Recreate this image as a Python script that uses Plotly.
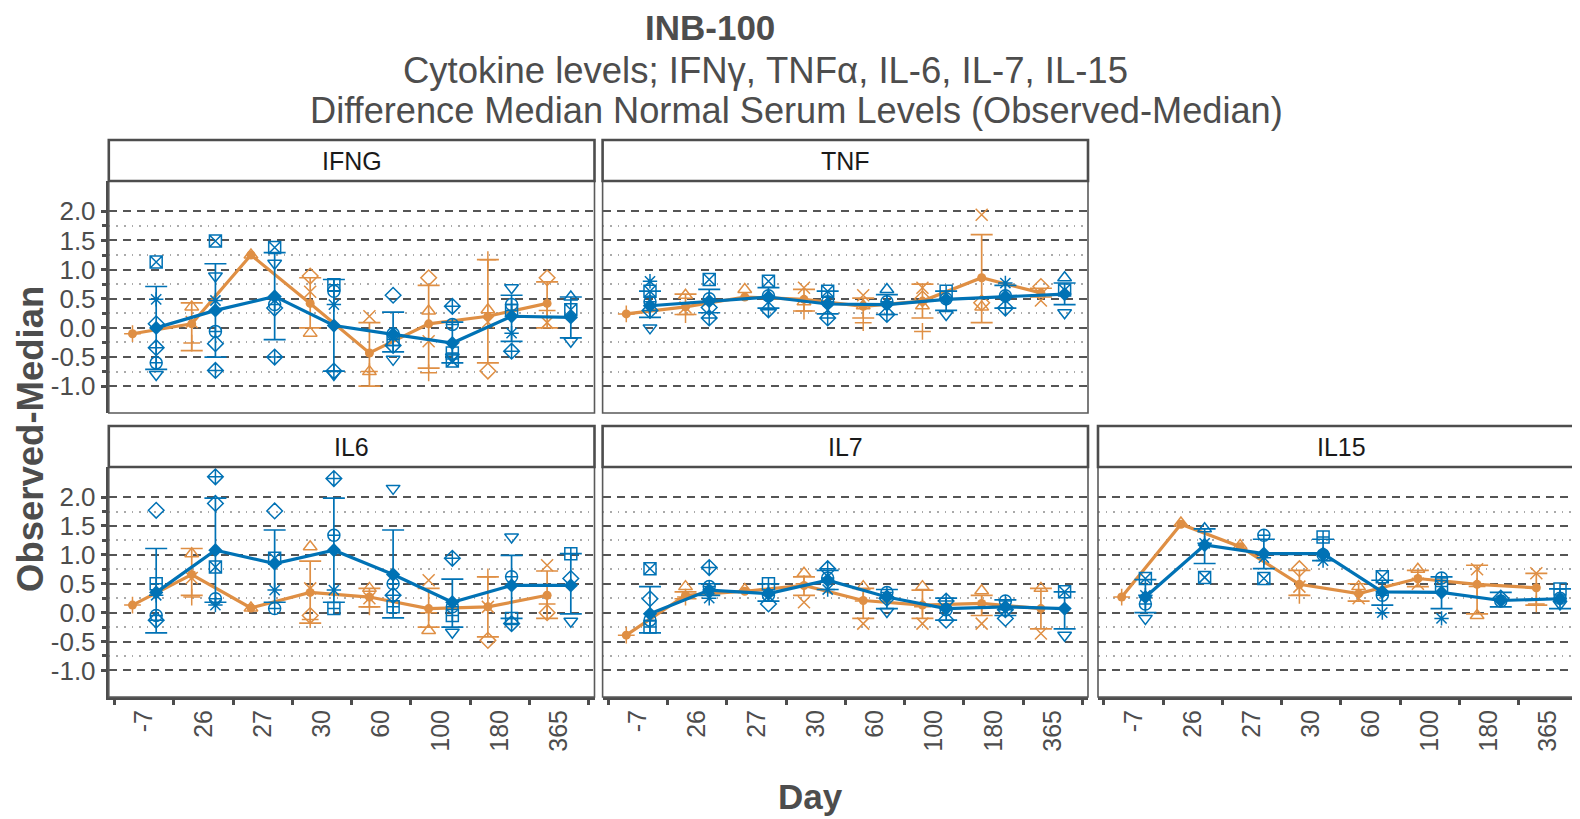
import plotly.graph_objects as go

# ---------------- data ----------------
DAYS = ["-7", "26", "27", "30", "60", "100", "180", "365"]
PANELS = ["IFNG", "TNF", "IL6", "IL7", "IL15"]

# group A (orange) and group B (blue): mean, error-bar low / high, individual subjects
IFNG_A_MEAN = [-0.10, 0.07, 1.25, 0.42, -0.43, 0.07, 0.20, 0.42]
IFNG_A_LO = [None, -0.39, None, 0.00, -1.00, -0.69, -0.60, 0.00]
IFNG_A_HI = [None, 0.43, None, 0.86, 0.09, 0.73, 1.17, 0.79]
IFNG_A_PTS = [("-7", "A2", -0.10), ("26", "A1", 0.36), ("26", "A2", -0.26), ("26", "A3", 0.10),
              ("27", "A1", 1.25), ("30", "A4", 0.89), ("30", "A3", 0.62), ("30", "A1", -0.09),
              ("60", "A3", 0.20), ("60", "A1", -0.75), ("60", "A2", -0.75),
              ("100", "A4", 0.86), ("100", "A1", 0.29), ("100", "A3", -0.23), ("100", "A2", -0.77),
              ("180", "A2", 1.17), ("180", "A1", 0.31), ("180", "A4", -0.74), ("180", "A3", 0.10),
              ("365", "A4", 0.86), ("365", "A3", 0.09), ("365", "A2", 0.30)]
IFNG_B_MEAN = [0.00, 0.30, 0.54, 0.04, -0.11, -0.26, 0.20, 0.18]
IFNG_B_LO = [-0.71, -0.50, -0.20, -0.74, -0.41, -0.60, -0.23, -0.17]
IFNG_B_HI = [0.71, 1.10, 1.29, 0.83, 0.27, 0.10, 0.56, 0.53]
IFNG_B_PTS = [("-7", "B1", 1.13), ("-7", "B5", 0.49), ("-7", "B3", 0.07), ("-7", "B4", -0.34), ("-7", "B6", -0.60), ("-7", "B2", -0.80),
              ("26", "B1", 1.49), ("26", "B2", 0.89), ("26", "B5", 0.47), ("26", "B6", -0.06), ("26", "B3", -0.27), ("26", "B4", -0.73),
              ("27", "B1", 1.38), ("27", "B2", 1.11), ("27", "B3", 0.34), ("27", "B6", 0.40), ("27", "B4", -0.50),
              ("30", "B7", 0.74), ("30", "B6", 0.63), ("30", "B5", 0.40), ("30", "B4", -0.74), ("30", "B2", -0.80),
              ("60", "B3", 0.56), ("60", "B6", -0.10), ("60", "B7", -0.20), ("60", "B4", -0.30), ("60", "B2", -0.54),
              ("100", "B4", 0.37), ("100", "B6", 0.06), ("100", "B7", -0.43), ("100", "B2", -0.50), ("100", "B1", -0.57),
              ("180", "B2", 0.69), ("180", "B6", 0.40), ("180", "B7", 0.30), ("180", "B5", -0.09), ("180", "B4", -0.40),
              ("365", "B8", 0.53), ("365", "B1", 0.31), ("365", "B2", -0.23)]

TNF_A_MEAN = [0.24, 0.36, 0.53, 0.49, 0.37, 0.46, 0.86, 0.60]
TNF_A_LO = [None, 0.23, None, 0.29, 0.17, 0.17, 0.09, 0.53]
TNF_A_HI = [None, 0.58, None, 0.66, 0.51, 0.75, 1.60, 0.68]
TNF_A_PTS = [("-7", "A2", 0.24), ("26", "A1", 0.56), ("26", "A2", 0.23), ("26", "A3", 0.35),
             ("27", "A1", 0.66), ("30", "A3", 0.69), ("30", "A1", 0.45), ("30", "A2", 0.29),
             ("60", "A3", 0.56), ("60", "A2", 0.09), ("60", "A1", 0.38),
             ("100", "A3", 0.69), ("100", "A2", -0.06), ("100", "A1", 0.38), ("100", "A4", 0.50),
             ("180", "A3", 1.94), ("180", "A4", 0.43), ("180", "A1", 0.36),
             ("365", "A4", 0.71), ("365", "A3", 0.47)]
TNF_B_MEAN = [0.38, 0.46, 0.53, 0.41, 0.40, 0.49, 0.54, 0.58]
TNF_B_LO = [0.18, 0.26, 0.34, 0.24, 0.23, 0.30, 0.34, 0.40]
TNF_B_HI = [0.63, 0.66, 0.69, 0.63, 0.57, 0.63, 0.73, 0.77]
TNF_B_PTS = [("-7", "B5", 0.80), ("-7", "B1", 0.63), ("-7", "B6", 0.45), ("-7", "B4", 0.30), ("-7", "B2", 0.00),
             ("26", "B1", 0.83), ("26", "B6", 0.50), ("26", "B3", 0.35), ("26", "B4", 0.17),
             ("27", "B1", 0.80), ("27", "B6", 0.55), ("27", "B4", 0.31),
             ("30", "B1", 0.63), ("30", "B6", 0.45), ("30", "B4", 0.17),
             ("60", "B8", 0.66), ("60", "B6", 0.45), ("60", "B4", 0.23),
             ("100", "B7", 0.63), ("100", "B6", 0.50), ("100", "B2", 0.23),
             ("180", "B5", 0.77), ("180", "B6", 0.55), ("180", "B4", 0.34),
             ("365", "B8", 0.86), ("365", "B1", 0.65), ("365", "B2", 0.26)]

IL6_A_MEAN = [0.13, 0.66, 0.08, 0.35, 0.27, 0.07, 0.10, 0.30]
IL6_A_LO = [None, 0.30, None, -0.18, 0.10, -0.25, -0.42, -0.10]
IL6_A_HI = [None, 1.11, None, 0.89, 0.42, 0.42, 0.62, 0.72]
IL6_A_PTS = [("-7", "A2", 0.13), ("26", "A1", 1.02), ("26", "A2", 0.27), ("26", "A3", 0.60),
             ("27", "A1", 0.08), ("30", "A1", 1.14), ("30", "A3", 0.42), ("30", "A4", -0.05), ("30", "A2", -0.12),
             ("60", "A1", 0.42), ("60", "A2", 0.10), ("60", "A3", 0.25),
             ("100", "A3", 0.56), ("100", "A1", -0.31), ("100", "A2", 0.00),
             ("180", "A2", 0.62), ("180", "A3", 0.10), ("180", "A4", -0.48),
             ("365", "A3", 0.82), ("365", "A4", 0.00), ("365", "A2", 0.15)]
IL6_B_MEAN = [0.35, 1.08, 0.85, 1.08, 0.66, 0.18, 0.47, 0.47]
IL6_B_LO = [-0.35, 0.18, 0.18, 0.18, -0.09, -0.25, -0.10, -0.02]
IL6_B_HI = [1.11, 1.98, 1.43, 1.98, 1.43, 0.58, 0.99, 1.02]
IL6_B_PTS = [("-7", "B3", 1.77), ("-7", "B7", 0.50), ("-7", "B5", 0.30), ("-7", "B6", -0.05), ("-7", "B4", -0.13),
             ("26", "B4", 2.35), ("26", "B3", 1.89), ("26", "B1", 0.79), ("26", "B6", 0.24), ("26", "B5", 0.13),
             ("27", "B3", 1.76), ("27", "B1", 0.94), ("27", "B5", 0.39), ("27", "B6", 0.07),
             ("30", "B4", 2.32), ("30", "B6", 1.34), ("30", "B5", 0.39), ("30", "B7", 0.07),
             ("60", "B2", 2.15), ("60", "B6", 0.50), ("60", "B4", 0.30), ("60", "B7", 0.10),
             ("100", "B4", 0.94), ("100", "B6", 0.10), ("100", "B7", -0.05), ("100", "B2", -0.34),
             ("180", "B2", 1.31), ("180", "B6", 0.62), ("180", "B7", -0.10), ("180", "B4", -0.19),
             ("365", "B7", 1.02), ("365", "B3", 0.59), ("365", "B2", -0.15)]

IL7_A_MEAN = [-0.39, 0.30, 0.37, 0.47, 0.21, 0.13, 0.16, 0.07]
IL7_A_LO = [None, 0.24, None, 0.30, -0.10, -0.10, -0.05, -0.28]
IL7_A_HI = [None, 0.36, None, 0.62, 0.42, 0.39, 0.30, 0.42]
IL7_A_PTS = [("-7", "A2", -0.39), ("26", "A1", 0.45), ("26", "A2", 0.27), ("27", "A1", 0.40),
             ("30", "A1", 0.68), ("30", "A3", 0.18), ("30", "A2", 0.50),
             ("60", "A1", 0.45), ("60", "A3", -0.19), ("60", "A2", 0.20),
             ("100", "A1", 0.45), ("100", "A3", -0.19), ("100", "A2", 0.10),
             ("180", "A1", 0.38), ("180", "A3", -0.19), ("180", "A2", 0.15),
             ("365", "A1", 0.42), ("365", "A3", -0.36)]
IL7_B_MEAN = [-0.02, 0.39, 0.33, 0.56, 0.27, 0.07, 0.10, 0.07]
IL7_B_LO = [-0.35, 0.30, 0.20, 0.40, 0.07, -0.13, -0.05, -0.28]
IL7_B_HI = [0.45, 0.50, 0.50, 0.73, 0.40, 0.25, 0.22, 0.36]
IL7_B_PTS = [("-7", "B1", 0.76), ("-7", "B3", 0.24), ("-7", "B6", -0.13), ("-7", "B7", -0.25),
             ("26", "B4", 0.78), ("26", "B6", 0.45), ("26", "B5", 0.25),
             ("27", "B7", 0.50), ("27", "B6", 0.30), ("27", "B3", 0.15),
             ("30", "B4", 0.76), ("30", "B6", 0.60), ("30", "B5", 0.40),
             ("60", "B6", 0.35), ("60", "B4", 0.25), ("60", "B2", 0.02),
             ("100", "B4", 0.20), ("100", "B6", 0.05), ("100", "B3", -0.13),
             ("180", "B6", 0.20), ("180", "B4", 0.05), ("180", "B3", -0.10),
             ("365", "B1", 0.36), ("365", "B2", -0.39)]

IL15_A_MEAN = [0.27, 1.53, 1.14, 0.49, 0.33, 0.59, 0.49, 0.43]
IL15_A_LO = [None, None, None, 0.30, 0.20, 0.45, -0.02, 0.13]
IL15_A_HI = [None, None, None, 0.73, 0.50, 0.73, 0.82, 0.68]
IL15_A_PTS = [("-7", "A2", 0.27), ("26", "A1", 1.55), ("27", "A1", 1.16),
              ("30", "A4", 0.76), ("30", "A2", 0.30), ("30", "A3", 0.45),
              ("60", "A1", 0.45), ("60", "A3", 0.25), ("100", "A1", 0.75), ("100", "A3", 0.50),
              ("180", "A3", 0.75), ("180", "A1", -0.05), ("180", "A2", 0.45),
              ("365", "A3", 0.68), ("365", "A2", 0.15)]
IL15_B_MEAN = [0.27, 1.17, 1.02, 1.02, 0.36, 0.35, 0.21, 0.24]
IL15_B_LO = [0.00, 0.85, 0.76, 0.90, 0.13, 0.07, 0.10, 0.07]
IL15_B_HI = [0.57, 1.45, 1.27, 1.27, 0.56, 0.62, 0.35, 0.41]
IL15_B_PTS = [("-7", "B1", 0.59), ("-7", "B5", 0.30), ("-7", "B6", 0.15), ("-7", "B2", -0.10),
              ("26", "B8", 1.45), ("26", "B5", 1.20), ("26", "B1", 0.61),
              ("27", "B6", 1.34), ("27", "B5", 0.95), ("27", "B1", 0.59),
              ("30", "B7", 1.31), ("30", "B6", 1.00), ("30", "B5", 0.90),
              ("60", "B1", 0.62), ("60", "B6", 0.30), ("60", "B5", 0.00),
              ("100", "B6", 0.60), ("100", "B7", 0.45), ("100", "B5", -0.10),
              ("180", "B3", 0.25), ("180", "B6", 0.20),
              ("365", "B7", 0.41), ("365", "B6", 0.25), ("365", "B2", 0.15)]

Y_TICKS = [-1.0, -0.5, 0.0, 0.5, 1.0, 1.5, 2.0]
Y_MINOR = [-0.75, -0.25, 0.25, 0.75, 1.25, 1.75]

# ---------------- styling ----------------
OFF = 8  # page body margin of the browser
W, H = 1580 - OFF, 819 - OFF
ORANGE = "#DF8F44"
BLUE = "#0072B5"
DARK = "#4d4d4d"
FONT = "Liberation Sans, Arial, sans-serif"
SYM = {"A1": "triangle-up-open", "A2": "cross-thin-open", "A3": "x-thin-open", "A4": "diamond-open",
       "B1": "square-x-open", "B2": "triangle-down-open", "B3": "diamond-open", "B4": "diamond-cross-open",
       "B5": "asterisk-open", "B6": "circle-cross-open", "B7": "square-cross-open", "B8": "triangle-up-open"}
DODGE = {"A": -0.2, "B": 0.2}
COLOR = {"A": ORANGE, "B": BLUE}

DATA = {
    "IFNG": {"A": (IFNG_A_MEAN, IFNG_A_LO, IFNG_A_HI, IFNG_A_PTS), "B": (IFNG_B_MEAN, IFNG_B_LO, IFNG_B_HI, IFNG_B_PTS)},
    "TNF": {"A": (TNF_A_MEAN, TNF_A_LO, TNF_A_HI, TNF_A_PTS), "B": (TNF_B_MEAN, TNF_B_LO, TNF_B_HI, TNF_B_PTS)},
    "IL6": {"A": (IL6_A_MEAN, IL6_A_LO, IL6_A_HI, IL6_A_PTS), "B": (IL6_B_MEAN, IL6_B_LO, IL6_B_HI, IL6_B_PTS)},
    "IL7": {"A": (IL7_A_MEAN, IL7_A_LO, IL7_A_HI, IL7_A_PTS), "B": (IL7_B_MEAN, IL7_B_LO, IL7_B_HI, IL7_B_PTS)},
    "IL15": {"A": (IL15_A_MEAN, IL15_A_LO, IL15_A_HI, IL15_A_PTS), "B": (IL15_B_MEAN, IL15_B_LO, IL15_B_HI, IL15_B_PTS)},
}

# screen-pixel geometry of the panels
COLS = [(108.8, 594.5), (602.6, 1088.0), (1098.0, 1584.0)]
ROWS = [(181.0, 413.0), (467.0, 697.0)]
STRIP_H = 41.0
POS = {"IFNG": (0, 0), "TNF": (0, 1), "IL6": (1, 0), "IL7": (1, 1), "IL15": (1, 2)}
UNIT = (COLS[0][1] - COLS[0][0]) / 8.2
YR = [-1.46, 2.52]


def px(x):
    return (x - OFF) / W


def py(y):
    return 1 - (y - OFF) / H


fig = go.Figure()
layout = dict(
    width=W, height=H, margin=dict(l=0, r=0, t=0, b=0, autoexpand=False),
    paper_bgcolor="white", plot_bgcolor="white", showlegend=False,
    font=dict(family=FONT, color=DARK),
)
shapes, annotations = [], []
day_idx = {d: i + 1 for i, d in enumerate(DAYS)}

for k, name in enumerate(PANELS, start=1):
    row, col = POS[name]
    xa = "x" if k == 1 else f"x{k}"
    ya = "y" if k == 1 else f"y{k}"
    l, r = COLS[col]
    t, b = ROWS[row]
    rclip = min(r, W + OFF)
    xr = [0.4, 0.4 + (rclip - l) / UNIT]

    for g in ("A", "B"):
        mean, lo, hi, pts = DATA[name][g]
        c = COLOR[g]
        # individual subjects
        fig.add_trace(go.Scatter(
            x=[day_idx[d] + DODGE[g] for d, s, v in pts], y=[v for d, s, v in pts],
            mode="markers", xaxis=xa, yaxis=ya, hoverinfo="skip", cliponaxis=False,
            marker=dict(symbol=[SYM[s] for d, s, v in pts], size=12, color=c,
                        line=dict(color=c, width=1.5))))
        # error bars
        ex, ey, ep, em = [], [], [], []
        for i, m in enumerate(mean):
            if lo[i] is not None and hi[i] is not None:
                ex.append(i + 1 + DODGE[g])
                ey.append(m)
                ep.append(hi[i] - m)
                em.append(m - lo[i])
        fig.add_trace(go.Scatter(
            x=ex, y=ey, mode="markers", xaxis=xa, yaxis=ya, hoverinfo="skip",
            marker=dict(size=2, color=c, opacity=0),
            error_y=dict(type="data", symmetric=False, array=ep, arrayminus=em,
                         color=c, thickness=1.7, width=11)))
        # mean line
        fig.add_trace(go.Scatter(
            x=[i + 1 + DODGE[g] for i in range(len(mean))], y=mean,
            mode="lines+markers", xaxis=xa, yaxis=ya, hoverinfo="skip",
            line=dict(color=c, width=3.2),
            marker=dict(symbol="circle" if g == "A" else "diamond", size=9 if g == "A" else 11, color=c)))

    layout["xaxis" if k == 1 else f"xaxis{k}"] = dict(
        domain=[px(l), px(rclip)], range=xr, anchor=ya, automargin=False,
        tickmode="array", tickvals=list(range(1, 9)), ticktext=DAYS, ticks="",
        showticklabels=(row == 1), tickangle=-90,
        tickfont=dict(size=25, color=DARK, family=FONT),
        showgrid=False, zeroline=False,
        showline=(row == 1), linewidth=3, linecolor=DARK,
        minor=dict(tickmode="array", tickvals=[0.5 + i for i in range(9)],
                   ticks="outside" if row == 1 else "", ticklen=5, tickwidth=3,
                   tickcolor=DARK, showgrid=False),
    )
    layout["yaxis" if k == 1 else f"yaxis{k}"] = dict(
        domain=[py(b), py(t)], range=YR, anchor=xa, automargin=False,
        tickmode="array", tickvals=Y_TICKS, ticktext=[f"{v:.1f}" for v in Y_TICKS],
        showticklabels=(col == 0), ticks="outside" if col == 0 else "",
        ticklen=5, tickwidth=3, tickcolor=DARK,
        tickfont=dict(size=26, color=DARK, family=FONT),
        showgrid=True, gridcolor="#555555", gridwidth=1.8, griddash="8px,6px",
        zeroline=False, showline=(col == 0), linewidth=3, linecolor=DARK,
        minor=dict(tickmode="array", tickvals=Y_MINOR, showgrid=True, gridcolor="#aaaaaa",
                   gridwidth=1.6, griddash="1.6px,6px",
                   ticks="outside" if col == 0 else "", ticklen=4, tickwidth=3, tickcolor=DARK),
    )
    # panel border
    shapes.append(dict(type="rect", xref="paper", yref="paper", x0=px(l), x1=px(r), y0=py(b), y1=py(t),
                       line=dict(color="#5a5a5a", width=1.6), fillcolor="rgba(0,0,0,0)", layer="above"))
    # strip
    shapes.append(dict(type="rect", xref="paper", yref="paper", x0=px(l), x1=px(r), y0=py(t), y1=py(t - STRIP_H),
                       line=dict(color=DARK, width=2.6), fillcolor="white", layer="above"))
    annotations.append(dict(text=name, xref="paper", yref="paper", x=px((l + r) / 2), y=py(t - STRIP_H / 2),
                            xanchor="center", yanchor="middle", showarrow=False,
                            font=dict(size=25, color="#1a1a1a", family=FONT)))

# titles
annotations += [
    dict(text="<b>INB-100</b>", x=px(710), y=py(27), xref="paper", yref="paper", xanchor="center",
         yanchor="middle", showarrow=False, font=dict(size=35, color=DARK, family=FONT)),
    dict(text="Cytokine levels; IFNγ, TNFα, IL-6, IL-7, IL-15", x=px(765), y=py(70), xref="paper", yref="paper",
         xanchor="center", yanchor="middle", showarrow=False, font=dict(size=36.5, color=DARK, family=FONT)),
    dict(text="Difference Median Normal Serum Levels (Observed-Median)", x=px(796), y=py(110), xref="paper",
         yref="paper", xanchor="center", yanchor="middle", showarrow=False,
         font=dict(size=36.2, color=DARK, family=FONT)),
    dict(text="<b>Observed-Median</b>", x=px(31), y=py(439), xref="paper", yref="paper", xanchor="center",
         yanchor="middle", textangle=-90, showarrow=False, font=dict(size=36.5, color=DARK, family=FONT)),
    dict(text="<b>Day</b>", x=px(810), y=py(796), xref="paper", yref="paper", xanchor="center",
         yanchor="middle", showarrow=False, font=dict(size=35, color=DARK, family=FONT)),
]
layout["shapes"] = shapes
layout["annotations"] = annotations
fig.update_layout(**layout)
fig.write_html("out.html")
